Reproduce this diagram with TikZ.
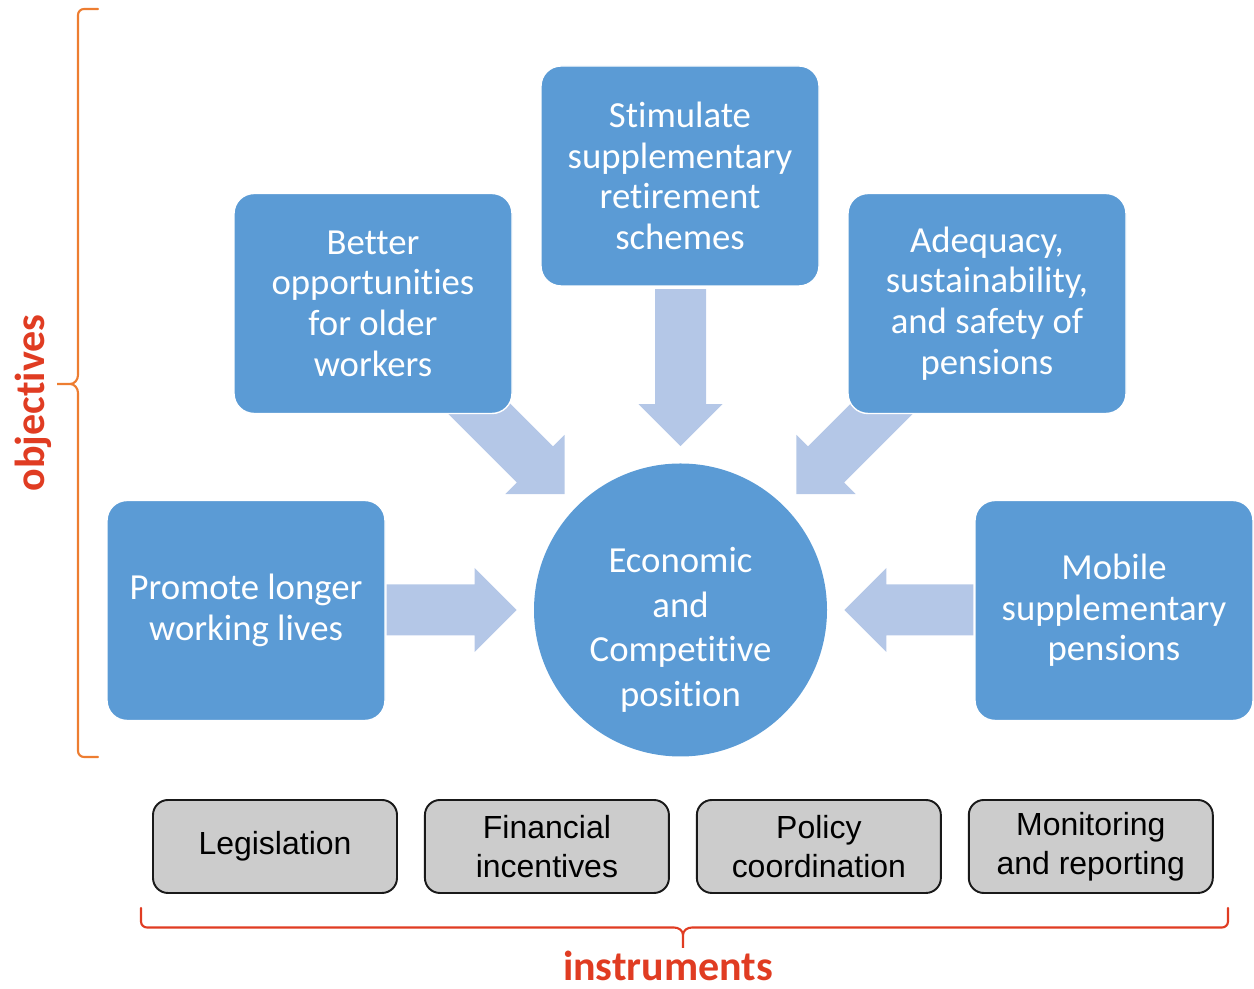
\documentclass[tikz,border=0pt]{standalone}
\usepackage{fontspec}
\setmainfont{Carlito}[Ligatures=NoCommon]
\newfontfamily\arialfont{Liberation Sans}
\usetikzlibrary{positioning, backgrounds}
\definecolor{azul}{HTML}{5B9BD5}
\definecolor{celeste}{HTML}{B4C7E7}
\definecolor{gris}{HTML}{CCCCCC}
\definecolor{naranja}{HTML}{ED7D31}
\definecolor{rojo}{HTML}{E03C22}

% block arrow: tip, angle, length
\newcommand{\fatarrow}[3]{%
  \fill[celeste, shift={#1}, rotate=#2]
    (0,0) -- (-0.84,0.84) -- (-0.84,0.51) -- (-#3,0.51)
    -- (-#3,-0.51) -- (-0.84,-0.51) -- (-0.84,-0.84) -- cycle;}

\begin{document}
\begin{tikzpicture}[
      meta/.style={draw=white, line width=0.8pt, fill=azul, rounded corners=0.4cm,
                   minimum width=5.56cm, minimum height=4.4cm, align=center,
                   text=white, font=\fontsize{20.9}{23.1}\selectfont},
      hub/.style={circle, fill=azul, minimum size=5.86cm, inner sep=0pt},
      hubtext/.style={align=center, text=white, font=\fontsize{20.9}{25.4}\selectfont},
      tool/.style={draw=black!90, line width=1.1pt, fill=gris, rounded corners=0.3cm,
                   minimum width=4.88cm, minimum height=1.86cm, align=center,
                   font=\arialfont\fontsize{18.2}{21.9}\selectfont},
      brace/.style={line width=1.2pt, line cap=round},
      tag/.style={font=\bfseries\fontsize{23.9}{28}\selectfont, text=rojo} ]
    \useasboundingbox (0,0) rectangle (25.08,19.78);

    % objectives around the centre
    \node[hub] (hub) at (13.61,7.58) {};
    \node[hubtext] (hubtxt) at ([yshift=-0.4cm]hub.center)
         {Economic\\and\\Competitive\\position};
    \node[meta] (stim)   at (13.6,16.26) {Stimulate\\supplementary\\retirement\\schemes};
    \node[meta] (older)  at (7.46,13.71) {Better\\opportunities\\for older\\workers};
    \node[meta] (adeq)   at (19.74,13.71) {Adequacy,\\sustainability,\\and safety of\\pensions};
    \node[meta] (longer) at (4.92,7.57) {Promote longer\\working lives};
    \node[meta] (mobile) at (22.28,7.57) {Mobile\\supplementary\\pensions};

    \begin{scope}[on background layer]
      \fatarrow{([yshift=0.34cm]hub.north)}{-90}{3.14}
      \fatarrow{([xshift=-0.34cm]hub.west)}{0}{2.6}
      \fatarrow{([xshift=0.34cm]hub.east)}{180}{2.58}
      \fatarrow{([shift={(-0.24,0.24)}]hub.north west)}{-45}{3}
      \fatarrow{([shift={(0.24,0.24)}]hub.north east)}{-135}{3}
    \end{scope}

    % instruments
    \node[tool] (legis) at (5.5,2.85) {Legislation};
    \node[tool, right=0.52cm of legis]   (finance) {Financial\\incentives};
    \node[tool, right=0.52cm of finance] (policy)  {Policy\\coordination};
    \node[tool, right=0.52cm of policy]  (monitor) {Monitoring\\and reporting};

    % braces
    \draw[brace, naranja] (1.96,19.6) -- (1.68,19.6) to[out=180,in=90] (1.56,19.48)
      -- (1.56,12.28) to[out=-90,in=0] (1.40,12.1) -- (1.14,12.1) -- (1.40,12.1)
      to[out=0,in=90] (1.56,11.92) -- (1.56,4.76) to[out=-90,in=180] (1.68,4.64)
      -- (1.96,4.64);
    \draw[brace, rojo] (2.82,1.62) -- (2.82,1.35) to[out=-90,in=180] (2.94,1.23)
      -- (13.48,1.23) to[out=0,in=90] (13.66,1.08) -- (13.66,0.82) -- (13.66,1.08)
      to[out=90,in=180] (13.84,1.23) -- (24.44,1.23) to[out=0,in=-90] (24.56,1.35)
      -- (24.56,1.62);

    \node[tag, rotate=90] (objectives) at (0.66,11.72) {objectives};
    \node[tag, anchor=base] (instruments) at (13.36,0.16) {instruments};
  \end{tikzpicture}
\end{document}
